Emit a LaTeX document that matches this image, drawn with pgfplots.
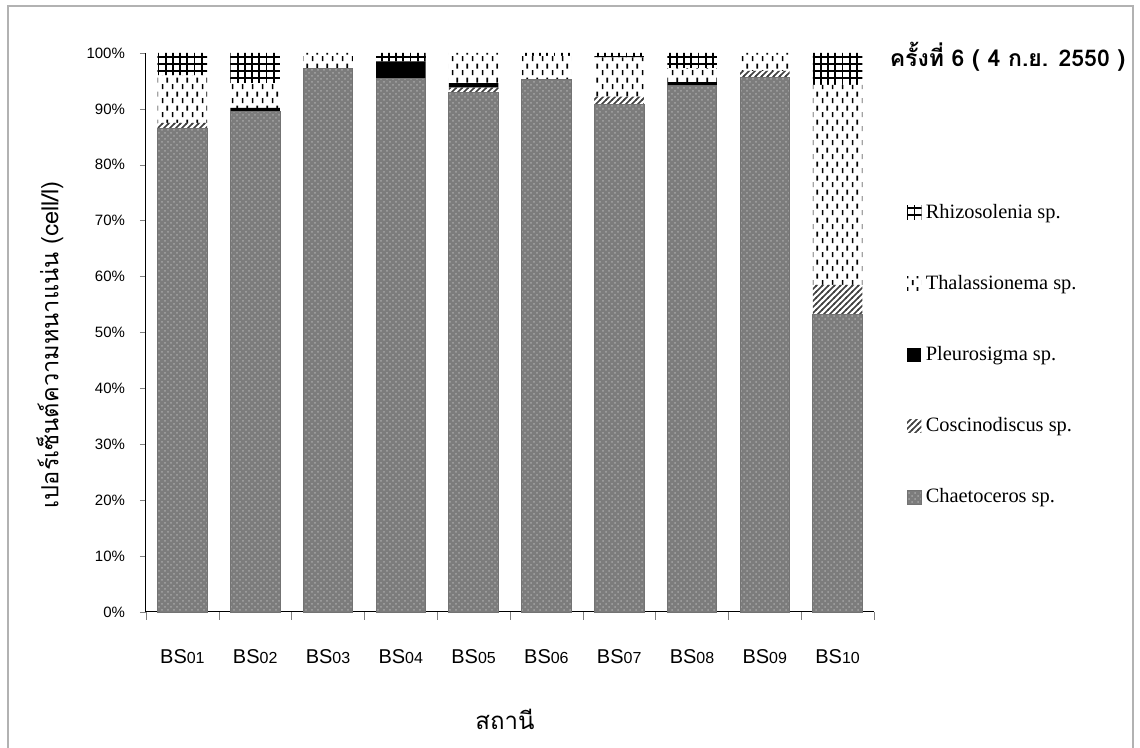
\documentclass[border=0pt]{standalone}
\usepackage{fontspec}
\setmainfont{Liberation Serif}
\setsansfont{Liberation Sans}
\newfontfamily\thaifont[Script=Thai]{Loma}
\usepackage{pgfplots}
\pgfplotsset{compat=1.18}
\usetikzlibrary{patterns}

\pgfdeclarepatternformonly{rhizo}{\pgfqpoint{-0.5pt}{-0.5pt}}{\pgfqpoint{4pt}{4pt}}{\pgfqpoint{3.6pt}{3.6pt}}{%
  \pgfsetlinewidth{0.9pt}%
  \pgfpathmoveto{\pgfqpoint{-0.5pt}{0pt}}\pgfpathlineto{\pgfqpoint{4pt}{0pt}}%
  \pgfpathmoveto{\pgfqpoint{0pt}{-0.5pt}}\pgfpathlineto{\pgfqpoint{0pt}{4pt}}%
  \pgfusepath{stroke}}
\pgfdeclarepatternformonly{thal}{\pgfqpoint{0pt}{0pt}}{\pgfqpoint{5pt}{7pt}}{\pgfqpoint{5pt}{7pt}}{%
  \pgfpathrectangle{\pgfqpoint{1pt}{0.5pt}}{\pgfqpoint{0.9pt}{2.6pt}}%
  \pgfpathrectangle{\pgfqpoint{3.5pt}{4pt}}{\pgfqpoint{0.9pt}{2.6pt}}%
  \pgfusepath{fill}}
\pgfdeclarepatternformonly{cosc}{\pgfqpoint{-0.5pt}{-0.5pt}}{\pgfqpoint{3.5pt}{3.5pt}}{\pgfqpoint{3pt}{3pt}}{%
  \pgfsetlinewidth{0.8pt}%
  \pgfpathmoveto{\pgfqpoint{-0.5pt}{-0.5pt}}\pgfpathlineto{\pgfqpoint{3.5pt}{3.5pt}}%
  \pgfusepath{stroke}}

\definecolor{chaet}{RGB}{124,124,124}

\pgfplotstableread{
x chaet cosc pleuro thal rhizo
0 86.5 1.0 0.0 8.5 4.0
1 89.5 0.0 0.7 4.4 5.4
2 97.3 0.0 0.0 2.7 0.0
3 95.5 0.0 3.0 0.0 1.5
4 93.0 0.8 0.8 5.4 0.0
5 95.3 0.0 0.0 4.2 0.5
6 90.8 1.4 0.0 7.0 0.8
7 94.2 0.0 0.6 2.5 2.7
8 95.6 1.2 0.0 3.2 0.0
9 53.2 5.3 0.0 35.8 5.7
}\datatable

\begin{document}
\begin{tikzpicture}[x=1pt,y=1pt]
\path[use as bounding box] (0,0) rectangle (570,374);
\draw[gray!60, line width=0.8pt] (4,0) -- (4,371) -- (566.5,371) -- (566.5,0);
\begin{axis}[
  at={(73pt,68pt)}, anchor=south west, scale only axis,
  width=364pt, height=279.5pt,
  ybar stacked, bar width=0.68,
  xmin=-0.5, xmax=9.5, ymin=0, ymax=100,
  axis lines*=left,
  axis line style={line width=0.5pt},
  xtick={0,...,9},
  xticklabels={BS{\footnotesize 01},BS{\footnotesize 02},BS{\footnotesize 03},BS{\footnotesize 04},BS{\footnotesize 05},BS{\footnotesize 06},BS{\footnotesize 07},BS{\footnotesize 08},BS{\footnotesize 09},BS{\footnotesize 10}},
  xticklabel style={font=\sffamily\fontsize{10}{12}\selectfont, yshift=-12pt},
  major x tick style={draw=none},
  minor xtick={-0.5,0.5,...,9.5},
  minor tick length=4pt,
  tick align=outside,
  ytick={0,10,...,100},
  yticklabel={\pgfmathprintnumber{\tick}\%},
  /pgf/number format/assume math mode=true,
  yticklabel style={font=\sffamily\fontsize{7.5}{9}\selectfont, xshift=-4pt},
  major tick length=3pt,
  ylabel={\thaifont เปอร์เซ็นต์ความหนาแน่น (cell/l)},
  ylabel style={font=\fontsize{11.8}{14}\selectfont, at={(axis description cs:-0.132,0.478)}, anchor=center},
  xlabel={\thaifont สถานี},
  xlabel style={font=\fontsize{12}{14}\selectfont, at={(axis description cs:0.493,-0.193)}, anchor=center},
  legend style={at={(axis description cs:1.036,0.745)}, anchor=north west, draw=none, fill=none,
    font=\rmfamily\fontsize{10.2}{12}\selectfont, row sep=23pt, cells={anchor=west}},
  reverse legend,
  legend image code/.code={\path[#1, draw=none] (0pt,-3.4pt) rectangle (7.2pt,3.4pt);},
  clip=false,
]
\addplot[fill=chaet, draw=black!55, line width=0.4pt, postaction={pattern=crosshatch dots, pattern color=black!35}] table[x=x,y=chaet]{\datatable};
\addplot[draw=none, fill=white, postaction={pattern=cosc, pattern color=black!75}] table[x=x,y=cosc]{\datatable};
\addplot[draw=none, fill=black] table[x=x,y=pleuro]{\datatable};
\addplot[draw=none, fill=white, postaction={pattern=thal, pattern color=black}] table[x=x,y=thal]{\datatable};
\addplot[draw=none, fill=white, postaction={pattern=rhizo, pattern color=black}] table[x=x,y=rhizo]{\datatable};
\legend{Chaetoceros sp.,Coscinodiscus sp.,Pleurosigma sp.,Thalassionema sp.,Rhizosolenia sp.}
\node[anchor=west, font=\thaifont\bfseries\fontsize{11.5}{13}\selectfont] at (axis description cs:1.012,0.993) {ครั้งที่ 6 ( 4 ก.ย. 2550 )};
\end{axis}
\end{tikzpicture}
\end{document}
